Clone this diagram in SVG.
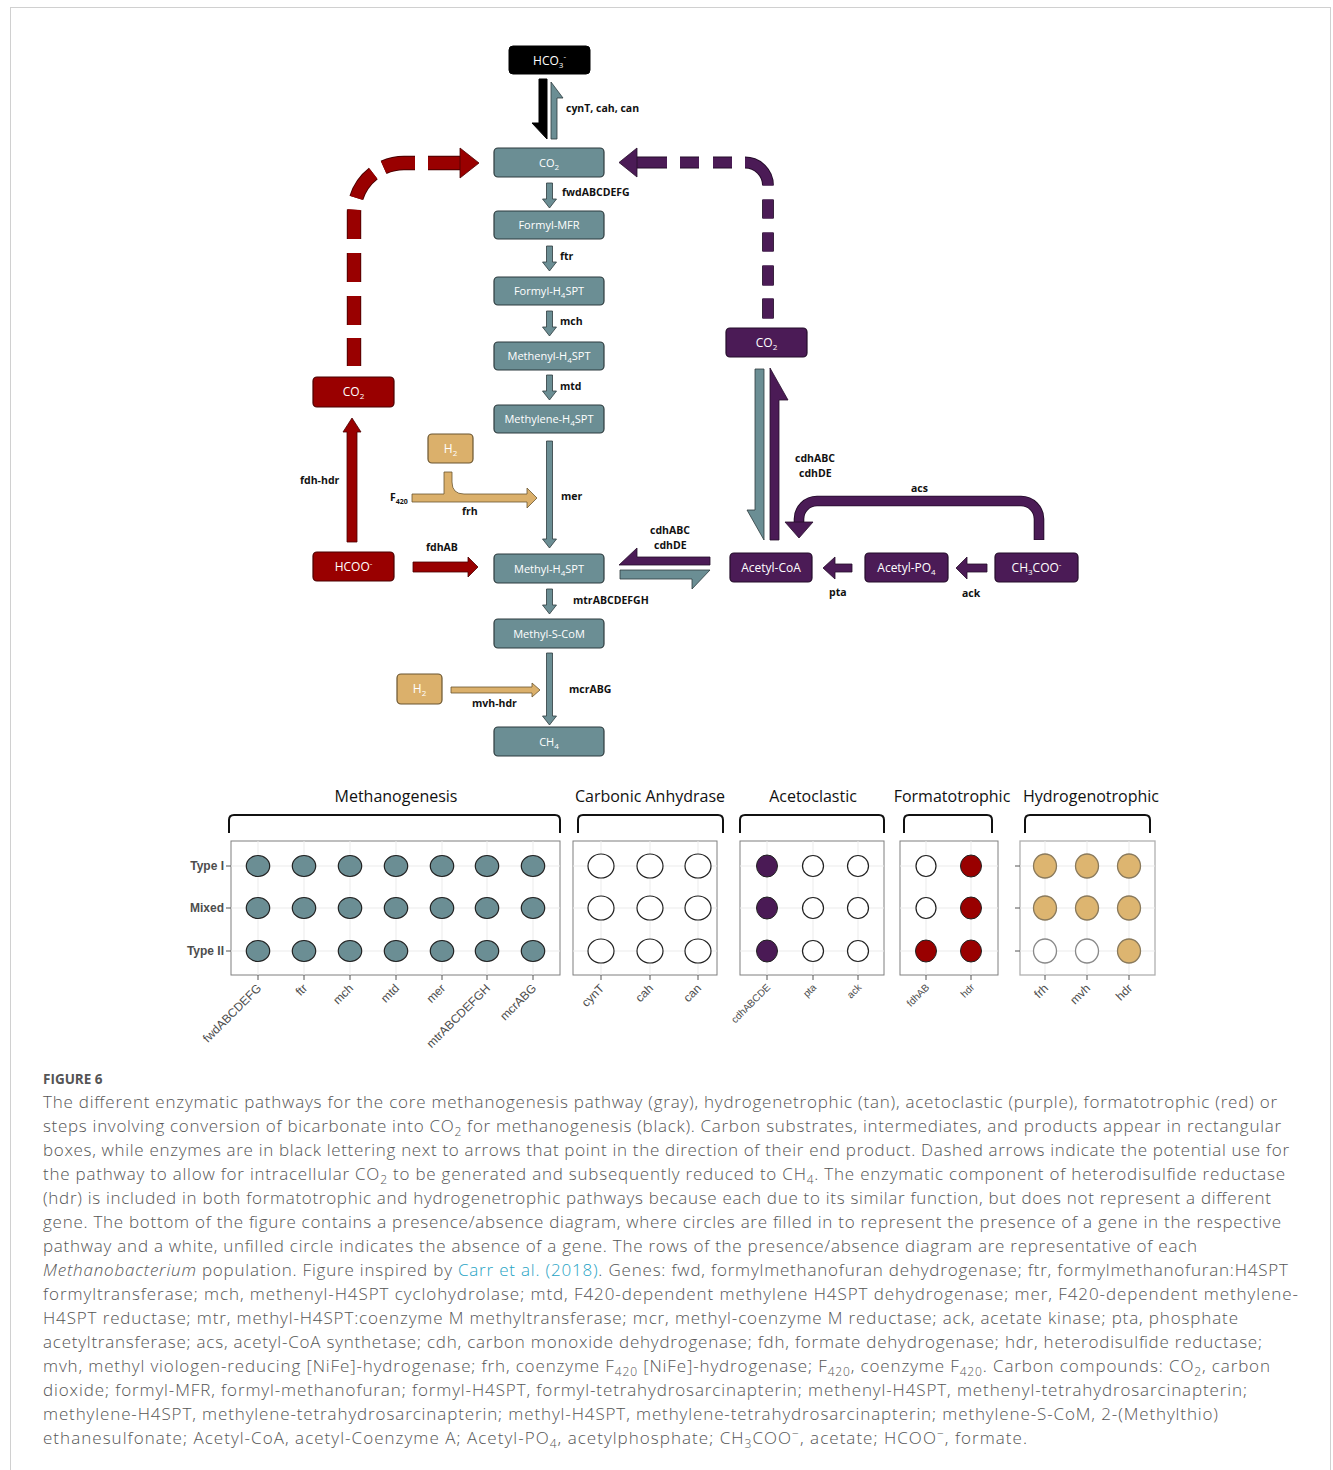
<svg xmlns="http://www.w3.org/2000/svg" width="1333" height="1470" viewBox="0 0 1333 1470">
<style>
.g{fill:#6b8e94;stroke:#2d3b3e;stroke-width:1.2}
.p{fill:#4b1b56;stroke:#240c2a;stroke-width:1.2}
.r{fill:#990000;stroke:#4a0000;stroke-width:1.2}
.t{fill:#dbb06b;stroke:#6a5530;stroke-width:1.2}
.k{fill:#000;stroke:#000}
.nt{font-family:"Open Sans","Liberation Sans",sans-serif;font-size:11px;fill:#fff;text-anchor:middle}
.nb{font-family:"Open Sans","Liberation Sans",sans-serif;font-size:12px;fill:#fff;text-anchor:middle}
.sb{font-size:8px}
.lb{font-family:"Open Sans","Liberation Sans",sans-serif;font-size:10.5px;font-weight:bold;fill:#111}
.ga{fill:#6b8e94;stroke:#2d3b3e;stroke-width:0.8}
.pa{fill:#4b1b56;stroke:#240c2a;stroke-width:0.8}
.ra{fill:#990000;stroke:#4a0000;stroke-width:0.8}
.ta{fill:#dbb06b;stroke:#6a5530;stroke-width:0.8}
.ttl{font-family:"Open Sans","Liberation Sans",sans-serif;font-size:16px;fill:#111;text-anchor:middle}
.br{fill:none;stroke:#111;stroke-width:2}
.pan{fill:#fff;stroke:#7f7f7f;stroke-width:1}
.grid{stroke:#ebebeb;stroke-width:1}
.tick{stroke:#555;stroke-width:1}
.row{font-family:"Liberation Sans",Arial,sans-serif;font-size:12px;font-weight:bold;fill:#4d4d4d;text-anchor:end}
.xl{font-family:"Liberation Sans",Arial,sans-serif;font-size:12px;fill:#4d4d4d;text-anchor:end}
.xs{font-family:"Liberation Sans",Arial,sans-serif;font-size:10px;fill:#4d4d4d;text-anchor:end}
.dg{fill:#6b8e94;stroke:#222;stroke-width:1.2}
.dw{fill:#fff;stroke:#222;stroke-width:1.2}
.dp{fill:#4a1a55;stroke:#222;stroke-width:1}
.dr{fill:#990000;stroke:#222;stroke-width:1}
.dt{fill:#ddb570;stroke:#8a7a5c;stroke-width:1.3}
.dtw{fill:#fff;stroke:#8a8a8a;stroke-width:1.3}
.cap{font-family:"Open Sans","Liberation Sans",sans-serif;font-size:17px;font-weight:300;fill:#555}
.cs{font-size:12px}
</style>
<rect x="10.5" y="7.5" width="1320" height="1470" fill="#fff" stroke="#d0d0d0"/>

<g id="connectors">
  <polygon points="539,79 547,79 547,139 532,123 539,123" class="k"/>
  <polygon points="551,139 557,139 557,98 563,98 551,82" class="ga"/>
  <polygon points="546.5,183 552.5,183 552.5,199 556.5,199 549.5,208 542.5,199 546.5,199" class="ga"/>
  <polygon points="546.5,246 552.5,246 552.5,262 556.5,262 549.5,271 542.5,262 546.5,262" class="ga"/>
  <polygon points="546.5,311 552.5,311 552.5,327 556.5,327 549.5,336 542.5,327 546.5,327" class="ga"/>
  <polygon points="546.5,375 552.5,375 552.5,391 556.5,391 549.5,400 542.5,391 546.5,391" class="ga"/>
  <polygon points="546.5,441 552.5,441 552.5,539 556.5,539 549.5,548 542.5,539 546.5,539" class="ga"/>
  <polygon points="546.5,589 552.5,589 552.5,605 556.5,605 549.5,614 542.5,605 546.5,605" class="ga"/>
  <polygon points="546.5,653 552.5,653 552.5,716 556.5,716 549.5,725 542.5,716 546.5,716" class="ga"/>
  <path d="M460,163 H404 A50,50 0 0 0 354,213 V366" fill="none" stroke="#4a0000" stroke-width="14.4" stroke-dasharray="32 13 32 12 30 12 29.5 14 29 14 29 13 28"/>
  <path d="M460,163 H404 A50,50 0 0 0 354,213 V366" fill="none" stroke="#990000" stroke-width="12.6" stroke-dasharray="32 13 32 12 30 12 29.5 14 29 14 29 13 28"/>
  <polygon points="479,163 460,148 460,178" class="ra"/>
  <path d="M637,162.5 H745 A23,23 0 0 1 768,185.5 V320" fill="none" stroke="#240c2a" stroke-width="11.8" stroke-dasharray="30 13 19 14 19 13 36 14 19 14 19 14 20 13 20"/>
  <path d="M637,162.5 H745 A23,23 0 0 1 768,185.5 V320" fill="none" stroke="#4b1b56" stroke-width="10" stroke-dasharray="30 13 19 14 19 13 36 14 19 14 19 14 20 13 20"/>
  <polygon points="619,162.5 637,148 637,177" class="pa"/>
  <polygon points="347,542 357,542 357,432 361,432 352,418 343,432 347,432" class="ra"/>
  <polygon points="413,562 468,562 468,557 478,567 468,577 468,572 413,572" class="ra"/>
  <path d="M412,494 H444 V472 H452 V482 Q452,494 464,494 H527 V488 L537,498 L527,508 V502 H412 Z" class="ta"/>
  <polygon points="451,687 532,687 532,683 540,690 532,697 532,693 451,693" class="ta"/>
  <polygon points="710,557 637,557 637,548 619,565 710,565" class="pa"/>
  <polygon points="620,570 710,570 692,589 692,579 620,579" class="ga"/>
  <polygon points="755,369 764,369 764,540 747,510 755,510" class="ga"/>
  <polygon points="770,540 779,540 779,400 788,400 770,368" class="pa"/>
  <path d="M1039,540 V519 A18,18 0 0 0 1021,501 H817 A18,18 0 0 0 799,519 V523" fill="none" stroke="#240c2a" stroke-width="10.6"/>
  <path d="M1039,539.5 V519 A18,18 0 0 0 1021,501 H817 A18,18 0 0 0 799,519 V524" fill="none" stroke="#4b1b56" stroke-width="8.8"/>
  <polygon points="785,522 813,522 799,538" class="pa"/>
  <polygon points="852,564 835,564 835,557 823,568 835,579 835,572 852,572" class="pa"/>
  <polygon points="987,564 967,564 967,557 956,568 967,579 967,572 987,572" class="pa"/>
  <text class="lb" x="566" y="112">cynT, cah, can</text>
  <text class="lb" x="562" y="196">fwdABCDEFG</text>
  <text class="lb" x="560" y="260">ftr</text>
  <text class="lb" x="560" y="325">mch</text>
  <text class="lb" x="560" y="390">mtd</text>
  <text class="lb" x="561" y="500">mer</text>
  <text class="lb" x="573" y="604">mtrABCDEFGH</text>
  <text class="lb" x="569" y="693">mcrABG</text>
  <text class="lb" x="472" y="707">mvh-hdr</text>
  <text class="lb" x="300" y="484">fdh-hdr</text>
  <text class="lb" x="426" y="551">fdhAB</text>
  <text class="lb" x="390" y="501">F<tspan font-size="7" dy="3">420</tspan></text>
  <text class="lb" x="462" y="515">frh</text>
  <text class="lb" x="650" y="534">cdhABC</text>
  <text class="lb" x="654" y="549">cdhDE</text>
  <text class="lb" x="795" y="462">cdhABC</text>
  <text class="lb" x="799" y="477">cdhDE</text>
  <text class="lb" x="911" y="492">acs</text>
  <text class="lb" x="829" y="596">pta</text>
  <text class="lb" x="962" y="597">ack</text>
</g>

<g id="n-hco3"><rect x="509" y="46" width="81" height="28" rx="4" class="k"/><text class="nb" x="549.5" y="65">HCO<tspan class="sb" dy="3">3</tspan><tspan class="sb" dy="-9">-</tspan></text></g>
<g id="n-co2"><rect x="494" y="148" width="110" height="29" rx="4" class="g"/><text class="nt" x="549" y="166.5">CO<tspan class="sb" dy="3">2</tspan></text></g>
<g id="n-formylmfr"><rect x="494" y="211" width="110" height="28" rx="4" class="g"/><text class="nt" x="549" y="229">Formyl-MFR</text></g>
<g id="n-formylh4spt"><rect x="494" y="277" width="110" height="28" rx="4" class="g"/><text class="nt" x="549" y="295">Formyl-H<tspan class="sb" dy="3">4</tspan><tspan dy="-3">SPT</tspan></text></g>
<g id="n-methenyl"><rect x="494" y="342" width="110" height="28" rx="4" class="g"/><text class="nt" x="549" y="360">Methenyl-H<tspan class="sb" dy="3">4</tspan><tspan dy="-3">SPT</tspan></text></g>
<g id="n-methylene"><rect x="494" y="405" width="110" height="28" rx="4" class="g"/><text class="nt" x="549" y="423">Methylene-H<tspan class="sb" dy="3">4</tspan><tspan dy="-3">SPT</tspan></text></g>
<g id="n-methyl"><rect x="494" y="554" width="110" height="29" rx="4" class="g"/><text class="nt" x="549" y="572.5">Methyl-H<tspan class="sb" dy="3">4</tspan><tspan dy="-3">SPT</tspan></text></g>
<g id="n-methylscom"><rect x="494" y="619" width="110" height="29" rx="4" class="g"/><text class="nt" x="549" y="637.5">Methyl-S-CoM</text></g>
<g id="n-ch4"><rect x="494" y="727" width="110" height="29" rx="4" class="g"/><text class="nt" x="549" y="745.5">CH<tspan class="sb" dy="3">4</tspan></text></g>
<g id="n-co2-red"><rect x="313" y="377" width="81" height="30" rx="4" class="r"/><text class="nb" x="353.5" y="396">CO<tspan class="sb" dy="3">2</tspan></text></g>
<g id="n-hcoo"><rect x="313" y="552" width="81" height="29" rx="4" class="r"/><text class="nb" x="353.5" y="571">HCOO<tspan class="sb" dy="-5">-</tspan></text></g>
<g id="n-h2-top"><rect x="428" y="434" width="45" height="29" rx="4" class="t"/><text class="nb" x="450.5" y="453">H<tspan class="sb" dy="3">2</tspan></text></g>
<g id="n-h2-bottom"><rect x="397" y="674" width="45" height="30" rx="4" class="t"/><text class="nb" x="419.5" y="693">H<tspan class="sb" dy="3">2</tspan></text></g>
<g id="n-co2-purple"><rect x="726" y="328" width="81" height="29" rx="4" class="p"/><text class="nb" x="766.5" y="347">CO<tspan class="sb" dy="3">2</tspan></text></g>
<g id="n-acetylcoa"><rect x="730" y="553" width="82" height="29" rx="4" class="p"/><text class="nb" x="771" y="572">Acetyl-CoA</text></g>
<g id="n-acetylpo4"><rect x="865" y="553" width="83" height="29" rx="4" class="p"/><text class="nb" x="906.5" y="572">Acetyl-PO<tspan class="sb" dy="3">4</tspan></text></g>
<g id="n-ch3coo"><rect x="995" y="553" width="83" height="29" rx="4" class="p"/><text class="nb" x="1036.5" y="572">CH<tspan class="sb" dy="3">3</tspan><tspan dy="-3">COO</tspan><tspan class="sb" dy="-5">-</tspan></text></g>

<g id="dotplot">
  <text class="ttl" x="396" y="802">Methanogenesis</text>
  <text class="ttl" x="650" y="802">Carbonic Anhydrase</text>
  <text class="ttl" x="813" y="802">Acetoclastic</text>
  <text class="ttl" x="952" y="802">Formatotrophic</text>
  <text class="ttl" x="1091" y="802">Hydrogenotrophic</text>
  <path class="br" d="M229,833 V820 Q229,815 234,815 H555 Q560,815 560,820 V833"/>
  <path class="br" d="M578,833 V820 Q578,815 583,815 H718 Q723,815 723,820 V833"/>
  <path class="br" d="M740,833 V820 Q740,815 745,815 H879 Q884,815 884,820 V833"/>
  <path class="br" d="M904,833 V820 Q904,815 909,815 H987 Q992,815 992,820 V833"/>
  <path class="br" d="M1025,833 V820 Q1025,815 1030,815 H1145 Q1150,815 1150,820 V833"/>

  <g id="panel-methanogenesis">
    <rect class="pan" x="231" y="841" width="329" height="134"/>
    <g class="grid">
      <line x1="231" y1="866" x2="560" y2="866"/><line x1="231" y1="908" x2="560" y2="908"/><line x1="231" y1="951" x2="560" y2="951"/>
      <line x1="258" y1="841" x2="258" y2="975"/><line x1="304" y1="841" x2="304" y2="975"/><line x1="350" y1="841" x2="350" y2="975"/><line x1="396" y1="841" x2="396" y2="975"/><line x1="442" y1="841" x2="442" y2="975"/><line x1="487" y1="841" x2="487" y2="975"/><line x1="533" y1="841" x2="533" y2="975"/>
    </g>
    <g class="tick">
      <line x1="226" y1="866" x2="231" y2="866"/><line x1="226" y1="908" x2="231" y2="908"/><line x1="226" y1="951" x2="231" y2="951"/>
      <line x1="258" y1="975" x2="258" y2="980"/><line x1="304" y1="975" x2="304" y2="980"/><line x1="350" y1="975" x2="350" y2="980"/><line x1="396" y1="975" x2="396" y2="980"/><line x1="442" y1="975" x2="442" y2="980"/><line x1="487" y1="975" x2="487" y2="980"/><line x1="533" y1="975" x2="533" y2="980"/>
    </g>
    <text class="row" x="224" y="870">Type I</text>
    <text class="row" x="224" y="912">Mixed</text>
    <text class="row" x="224" y="955">Type II</text>
    <g class="dg">
      <ellipse cx="258" cy="866" rx="11.7" ry="10.5"/><ellipse cx="304" cy="866" rx="11.7" ry="10.5"/><ellipse cx="350" cy="866" rx="11.7" ry="10.5"/><ellipse cx="396" cy="866" rx="11.7" ry="10.5"/><ellipse cx="442" cy="866" rx="11.7" ry="10.5"/><ellipse cx="487" cy="866" rx="11.7" ry="10.5"/><ellipse cx="533" cy="866" rx="11.7" ry="10.5"/>
      <ellipse cx="258" cy="908" rx="11.7" ry="10.5"/><ellipse cx="304" cy="908" rx="11.7" ry="10.5"/><ellipse cx="350" cy="908" rx="11.7" ry="10.5"/><ellipse cx="396" cy="908" rx="11.7" ry="10.5"/><ellipse cx="442" cy="908" rx="11.7" ry="10.5"/><ellipse cx="487" cy="908" rx="11.7" ry="10.5"/><ellipse cx="533" cy="908" rx="11.7" ry="10.5"/>
      <ellipse cx="258" cy="951" rx="11.7" ry="10.5"/><ellipse cx="304" cy="951" rx="11.7" ry="10.5"/><ellipse cx="350" cy="951" rx="11.7" ry="10.5"/><ellipse cx="396" cy="951" rx="11.7" ry="10.5"/><ellipse cx="442" cy="951" rx="11.7" ry="10.5"/><ellipse cx="487" cy="951" rx="11.7" ry="10.5"/><ellipse cx="533" cy="951" rx="11.7" ry="10.5"/>
    </g>
    <text class="xl" transform="translate(262,989) rotate(-45)">fwdABCDEFG</text>
    <text class="xl" transform="translate(308,989) rotate(-45)">ftr</text>
    <text class="xl" transform="translate(354,989) rotate(-45)">mch</text>
    <text class="xl" transform="translate(400,989) rotate(-45)">mtd</text>
    <text class="xl" transform="translate(446,989) rotate(-45)">mer</text>
    <text class="xl" transform="translate(491,989) rotate(-45)">mtrABCDEFGH</text>
    <text class="xl" transform="translate(537,989) rotate(-45)">mcrABG</text>
  </g>

  <g id="panel-carbonic">
    <rect class="pan" x="573" y="841" width="144" height="134"/>
    <g class="grid">
      <line x1="573" y1="866" x2="717" y2="866"/><line x1="573" y1="908" x2="717" y2="908"/><line x1="573" y1="951" x2="717" y2="951"/>
      <line x1="601" y1="841" x2="601" y2="975"/><line x1="650" y1="841" x2="650" y2="975"/><line x1="698" y1="841" x2="698" y2="975"/>
    </g>
    <g class="tick"><line x1="601" y1="975" x2="601" y2="980"/><line x1="650" y1="975" x2="650" y2="980"/><line x1="698" y1="975" x2="698" y2="980"/></g>
    <g class="dw">
      <ellipse cx="601" cy="866" rx="13" ry="12"/><ellipse cx="650" cy="866" rx="13" ry="12"/><ellipse cx="698" cy="866" rx="13" ry="12"/>
      <ellipse cx="601" cy="908" rx="13" ry="12"/><ellipse cx="650" cy="908" rx="13" ry="12"/><ellipse cx="698" cy="908" rx="13" ry="12"/>
      <ellipse cx="601" cy="951" rx="13" ry="12"/><ellipse cx="650" cy="951" rx="13" ry="12"/><ellipse cx="698" cy="951" rx="13" ry="12"/>
    </g>
    <text class="xl" transform="translate(605,989) rotate(-45)">cynT</text>
    <text class="xl" transform="translate(654,989) rotate(-45)">cah</text>
    <text class="xl" transform="translate(702,989) rotate(-45)">can</text>
  </g>

  <g id="panel-acetoclastic">
    <rect class="pan" x="740" y="841" width="144" height="134"/>
    <g class="grid">
      <line x1="740" y1="866" x2="884" y2="866"/><line x1="740" y1="908" x2="884" y2="908"/><line x1="740" y1="951" x2="884" y2="951"/>
      <line x1="767" y1="841" x2="767" y2="975"/><line x1="813" y1="841" x2="813" y2="975"/><line x1="858" y1="841" x2="858" y2="975"/>
    </g>
    <g class="tick"><line x1="767" y1="975" x2="767" y2="980"/><line x1="813" y1="975" x2="813" y2="980"/><line x1="858" y1="975" x2="858" y2="980"/></g>
    <ellipse class="dp" cx="767" cy="866" rx="10.5" ry="11"/><ellipse class="dw" cx="813" cy="866" rx="10.5" ry="10.5"/><ellipse class="dw" cx="858" cy="866" rx="10.5" ry="10.5"/>
    <ellipse class="dp" cx="767" cy="908" rx="10.5" ry="11"/><ellipse class="dw" cx="813" cy="908" rx="10.5" ry="10.5"/><ellipse class="dw" cx="858" cy="908" rx="10.5" ry="10.5"/>
    <ellipse class="dp" cx="767" cy="951" rx="10.5" ry="11"/><ellipse class="dw" cx="813" cy="951" rx="10.5" ry="10.5"/><ellipse class="dw" cx="858" cy="951" rx="10.5" ry="10.5"/>
    <text class="xs" transform="translate(771,988) rotate(-45)">cdhABCDE</text>
    <text class="xs" transform="translate(817,988) rotate(-45)">pta</text>
    <text class="xs" transform="translate(862,988) rotate(-45)">ack</text>
  </g>

  <g id="panel-formatotrophic">
    <rect class="pan" x="900" y="841" width="98" height="134"/>
    <g class="grid">
      <line x1="900" y1="866" x2="998" y2="866"/><line x1="900" y1="908" x2="998" y2="908"/><line x1="900" y1="951" x2="998" y2="951"/>
      <line x1="926" y1="841" x2="926" y2="975"/><line x1="971" y1="841" x2="971" y2="975"/>
    </g>
    <g class="tick"><line x1="926" y1="975" x2="926" y2="980"/><line x1="971" y1="975" x2="971" y2="980"/></g>
    <ellipse class="dw" cx="926" cy="866" rx="10" ry="10.5"/><ellipse class="dr" cx="971" cy="866" rx="10.5" ry="11"/>
    <ellipse class="dw" cx="926" cy="908" rx="10" ry="10.5"/><ellipse class="dr" cx="971" cy="908" rx="10.5" ry="11"/>
    <ellipse class="dr" cx="926" cy="951" rx="10.5" ry="11"/><ellipse class="dr" cx="971" cy="951" rx="10.5" ry="11"/>
    <text class="xs" transform="translate(930,988) rotate(-45)">fdhAB</text>
    <text class="xs" transform="translate(975,988) rotate(-45)">hdr</text>
  </g>

  <g id="panel-hydrogenotrophic">
    <rect x="1020" y="841" width="135" height="134" fill="#fff" stroke="#b0b0b0" stroke-width="1.3"/>
    <g class="grid">
      <line x1="1020" y1="866" x2="1155" y2="866"/><line x1="1020" y1="908" x2="1155" y2="908"/><line x1="1020" y1="951" x2="1155" y2="951"/>
      <line x1="1045" y1="841" x2="1045" y2="975"/><line x1="1087" y1="841" x2="1087" y2="975"/><line x1="1129" y1="841" x2="1129" y2="975"/>
    </g>
    <g class="tick">
      <line x1="1015" y1="866" x2="1020" y2="866"/><line x1="1015" y1="908" x2="1020" y2="908"/><line x1="1015" y1="951" x2="1020" y2="951"/>
      <line x1="1045" y1="975" x2="1045" y2="980"/><line x1="1087" y1="975" x2="1087" y2="980"/><line x1="1129" y1="975" x2="1129" y2="980"/>
    </g>
    <ellipse class="dt" cx="1045" cy="866" rx="11.5" ry="12"/><ellipse class="dt" cx="1087" cy="866" rx="11.5" ry="12"/><ellipse class="dt" cx="1129" cy="866" rx="11.5" ry="12"/>
    <ellipse class="dt" cx="1045" cy="908" rx="11.5" ry="12"/><ellipse class="dt" cx="1087" cy="908" rx="11.5" ry="12"/><ellipse class="dt" cx="1129" cy="908" rx="11.5" ry="12"/>
    <ellipse class="dtw" cx="1045" cy="951" rx="11.5" ry="12"/><ellipse class="dtw" cx="1087" cy="951" rx="11.5" ry="12"/><ellipse class="dt" cx="1129" cy="951" rx="11.5" ry="12"/>
    <text class="xl" transform="translate(1049,989) rotate(-45)">frh</text>
    <text class="xl" transform="translate(1091,989) rotate(-45)">mvh</text>
    <text class="xl" transform="translate(1133,989) rotate(-45)">hdr</text>
  </g>
</g>

<g id="caption">
  <text x="43" y="1084" font-family="'Open Sans','Liberation Sans',sans-serif" font-size="13.5" font-weight="bold" fill="#555">FIGURE 6</text>
  <text class="cap" x="43" y="1108" textLength="1234" lengthAdjust="spacing">The different enzymatic pathways for the core methanogenesis pathway (gray), hydrogenetrophic (tan), acetoclastic (purple), formatotrophic (red) or</text>
  <text class="cap" x="43" y="1132" textLength="1238" lengthAdjust="spacing">steps involving conversion of bicarbonate into CO<tspan class="cs" dy="4">2</tspan><tspan dy="-4"> for methanogenesis (black). Carbon substrates, intermediates, and products appear in rectangular</tspan></text>
  <text class="cap" x="43" y="1156" textLength="1246" lengthAdjust="spacing">boxes, while enzymes are in black lettering next to arrows that point in the direction of their end product. Dashed arrows indicate the potential use for</text>
  <text class="cap" x="43" y="1180" textLength="1242" lengthAdjust="spacing">the pathway to allow for intracellular CO<tspan class="cs" dy="4">2</tspan><tspan dy="-4"> to be generated and subsequently reduced to CH</tspan><tspan class="cs" dy="4">4</tspan><tspan dy="-4">. The enzymatic component of heterodisulfide reductase</tspan></text>
  <text class="cap" x="43" y="1204" textLength="1228" lengthAdjust="spacing">(hdr) is included in both formatotrophic and hydrogenetrophic pathways because each due to its similar function, but does not represent a different</text>
  <text class="cap" x="43" y="1228" textLength="1238" lengthAdjust="spacing">gene. The bottom of the figure contains a presence/absence diagram, where circles are filled in to represent the presence of a gene in the respective</text>
  <text class="cap" x="43" y="1252" textLength="1154" lengthAdjust="spacing">pathway and a white, unfilled circle indicates the absence of a gene. The rows of the presence/absence diagram are representative of each</text>
  <text class="cap" x="43" y="1276" textLength="1245" lengthAdjust="spacing"><tspan font-style="italic">Methanobacterium</tspan> population. Figure inspired by <tspan fill="#26a3c4">Carr et al. (2018)</tspan>. Genes: fwd, formylmethanofuran dehydrogenase; ftr, formylmethanofuran:H4SPT</text>
  <text class="cap" x="43" y="1300" textLength="1255" lengthAdjust="spacing">formyltransferase; mch, methenyl-H4SPT cyclohydrolase; mtd, F420-dependent methylene H4SPT dehydrogenase; mer, F420-dependent methylene-</text>
  <text class="cap" x="43" y="1324" textLength="1195" lengthAdjust="spacing">H4SPT reductase; mtr, methyl-H4SPT:coenzyme M methyltransferase; mcr, methyl-coenzyme M reductase; ack, acetate kinase; pta, phosphate</text>
  <text class="cap" x="43" y="1348" textLength="1219" lengthAdjust="spacing">acetyltransferase; acs, acetyl-CoA synthetase; cdh, carbon monoxide dehydrogenase; fdh, formate dehydrogenase; hdr, heterodisulfide reductase;</text>
  <text class="cap" x="43" y="1372" textLength="1227" lengthAdjust="spacing">mvh, methyl viologen-reducing [NiFe]-hydrogenase; frh, coenzyme F<tspan class="cs" dy="4">420</tspan><tspan dy="-4"> [NiFe]-hydrogenase; F</tspan><tspan class="cs" dy="4">420</tspan><tspan dy="-4">, coenzyme F</tspan><tspan class="cs" dy="4">420</tspan><tspan dy="-4">. Carbon compounds: CO</tspan><tspan class="cs" dy="4">2</tspan><tspan dy="-4">, carbon</tspan></text>
  <text class="cap" x="43" y="1396" textLength="1204" lengthAdjust="spacing">dioxide; formyl-MFR, formyl-methanofuran; formyl-H4SPT, formyl-tetrahydrosarcinapterin; methenyl-H4SPT, methenyl-tetrahydrosarcinapterin;</text>
  <text class="cap" x="43" y="1420" textLength="1175" lengthAdjust="spacing">methylene-H4SPT, methylene-tetrahydrosarcinapterin; methyl-H4SPT, methylene-tetrahydrosarcinapterin; methylene-S-CoM, 2-(Methylthio)</text>
  <text class="cap" x="43" y="1444" textLength="984" lengthAdjust="spacing">ethanesulfonate; Acetyl-CoA, acetyl-Coenzyme A; Acetyl-PO<tspan class="cs" dy="4">4</tspan><tspan dy="-4">, acetylphosphate; CH</tspan><tspan class="cs" dy="4">3</tspan><tspan dy="-4">COO</tspan><tspan class="cs" dy="-6">−</tspan><tspan dy="6">, acetate; HCOO</tspan><tspan class="cs" dy="-6">−</tspan><tspan dy="6">, formate.</tspan></text>
</g>
</svg>
